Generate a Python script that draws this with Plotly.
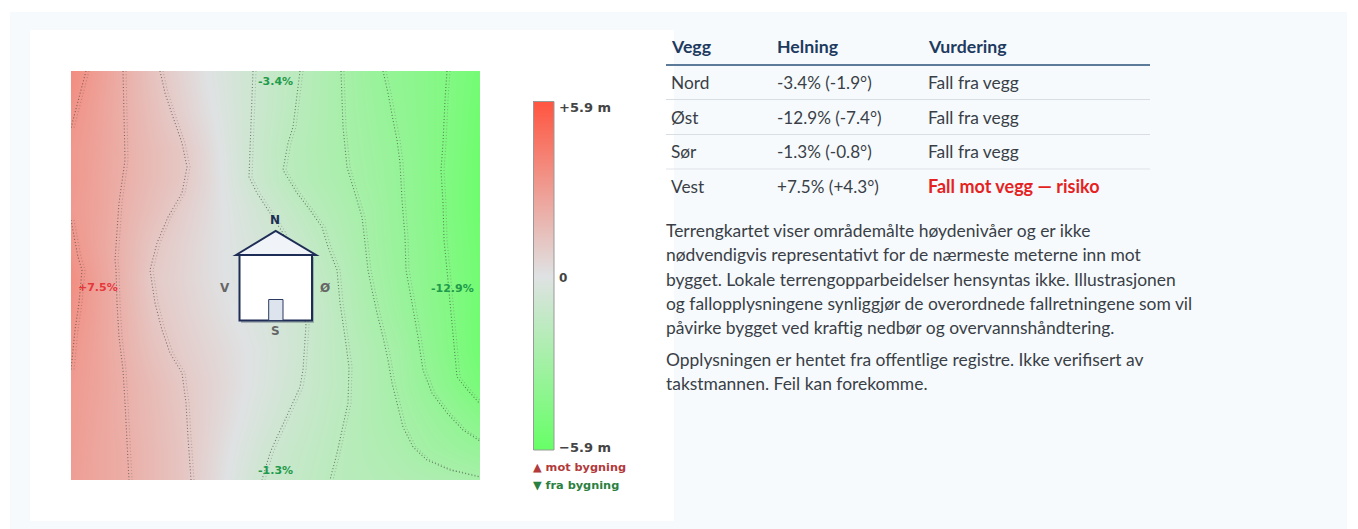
import plotly.graph_objects as go

W, H = 1358, 529

# --- terrain grid (metres relative to the building)
map_x = [71, 98, 125, 153, 180, 207, 234, 262, 289, 316, 344, 371, 398, 426, 453, 480]
map_y = [71, 110, 150, 180, 210, 245, 280, 315, 350, 385, 420, 450, 480]
z_r01 = [3.6, 2.85, 2.1, 1.3, .65, 0, -.53, -1.07, -1.59, -2.15, -2.76, -3.34, -3.81, -4.2, -4.65, -5.2]
z_r02 = [3.3, 2.7, 2.1, 1.45, .8, .15, -.48, -1.11, -1.67, -2.2, -2.74, -3.24, -3.73, -4.2, -4.65, -5.4]
z_r03 = [3.1, 2.65, 2.1, 1.6, 1.15, .4, -.42, -1.19, -1.83, -2.25, -2.68, -3.13, -3.58, -4.17, -4.7, -5.5]
z_r04 = [3.1, 2.6, 2.1, 1.6, 1.15, .45, -.36, -1.14, -1.78, -2.2, -2.6, -3.06, -3.53, -4.15, -4.75, -5.5]
z_r05 = [3.0, 2.6, 2.0, 1.45, .9, .35, -.2, -.78, -1.35, -1.9, -2.4, -2.9, -3.5, -4.13, -4.75, -5.5]
z_r06 = [3.2, 2.55, 1.9, 1.15, .7, .25, -.13, -.54, -.95, -1.55, -2.2, -2.85, -3.45, -4.05, -4.65, -5.4]
z_r07 = [3.5, 2.7, 1.9, 1.0, .65, .25, -.1, -.5, -.85, -1.35, -1.95, -2.7, -3.35, -4.0, -4.6, -5.3]
z_r08 = [3.35, 2.65, 1.95, 1.15, .75, .38, .02, -.35, -.7, -1.17, -1.85, -2.55, -3.2, -3.9, -4.55, -5.4]
z_r09 = [3.15, 2.6, 2.0, 1.35, .9, .55, .2, -.2, -.65, -1.25, -1.75, -2.3, -2.9, -3.75, -4.5, -5.35]
z_r10 = [3.0, 2.6, 2.1, 1.6, 1.1, .68, .24, -.25, -.75, -1.27, -1.7, -2.25, -2.85, -3.55, -4.25, -5.0]
z_r11 = [2.95, 2.55, 2.1, 1.65, 1.2, .66, .12, -.45, -.96, -1.38, -1.82, -2.25, -2.67, -3.17, -3.65, -4.2]
z_r12 = [2.9, 2.5, 2.2, 1.7, 1.25, .6, -.05, -.7, -1.15, -1.5, -1.88, -2.17, -2.45, -2.9, -3.2, -3.5]
z_r13 = [2.85, 2.5, 2.2, 1.7, 1.25, .55, -.2, -.9, -1.25, -1.6, -1.9, -2.05, -2.2, -2.35, -2.5, -2.7]
terrain_z = [z_r01, z_r02, z_r03, z_r04, z_r05, z_r06, z_r07, z_r08, z_r09, z_r10, z_r11, z_r12, z_r13]

# --- contour lines
a1_x = [86, 80, 73, 71]
a1_y = [71, 93, 120, 128]
a2_x = [71, 75, 78, 82, 79, 75, 71]
a2_y = [220, 242, 257, 270, 303, 330, 370]
b_x = [123, 125, 119, 115, 116, 117, 119, 123, 125, 127, 129, 129]
b_y = [71, 160, 203, 260, 270, 303, 337, 370, 403, 437, 477, 480]
c_x = [160, 165, 174, 182, 187, 182, 168, 157, 150, 155, 162, 170, 182, 186, 188, 191]
c_y = [71, 93, 120, 143, 167, 193, 217, 243, 270, 303, 330, 353, 373, 403, 437, 480]
d_x = [253, 251, 249, 257, 268, 283, 306, 303, 300, 293, 285, 277, 270, 262]
d_y = [71, 127, 177, 193, 210, 233, 325, 370, 387, 403, 420, 437, 453, 480]
e_x = [300, 297, 293, 288, 283, 297, 310, 322, 328, 337, 340, 345, 349, 348, 343, 337, 330]
e_y = [71, 93, 127, 143, 170, 193, 210, 227, 247, 270, 303, 337, 367, 403, 427, 453, 480]
f_x = [341, 343, 347, 355, 362, 365, 368, 372, 377, 383, 388, 392, 397, 403, 413, 427, 450, 480]
f_y = [71, 127, 167, 193, 217, 243, 270, 290, 313, 337, 360, 383, 403, 427, 447, 460, 470, 477]
g_x = [383, 388, 393, 397, 400, 402, 405, 406, 412, 418, 423, 432, 447, 463, 480]
g_y = [71, 93, 120, 140, 163, 200, 237, 270, 303, 337, 370, 393, 413, 430, 441]
h_x = [447, 445, 443, 441, 443, 444, 447, 450, 453, 457, 465, 480]
h_y = [71, 100, 143, 170, 203, 240, 270, 303, 337, 377, 387, 404]
contours = [(a1_x, a1_y), (a2_x, a2_y), (b_x, b_y), (c_x, c_y), (d_x, d_y),
            (e_x, e_y), (f_x, f_y), (g_x, g_y), (h_x, h_y)]

# --- scale
scale_levels = [-5.9, -2.95, 0, 2.95, 5.9]
scale_stops = [[0, "#66ff66"], [0.5, "#dfe2e3"], [1, "#ff5540"]]
scale_labels = ["+5.9 m", "0", "−5.9 m"]
legend_labels = ["▲ mot bygning", "▼ fra bygning"]

# --- wall labels
wall_slopes = ["-3.4%", "-12.9%", "-1.3%", "+7.5%"]
wall_letters = ["N", "Ø", "S", "V"]

# --- table
table_header = ["Vegg", "Helning", "Vurdering"]
table_walls = ["Nord", "Øst", "Sør", "Vest"]
table_slopes = ["-3.4% (-1.9°)", "-12.9% (-7.4°)", "-1.3% (-0.8°)", "+7.5% (+4.3°)"]
table_verdicts = ["Fall fra vegg", "Fall fra vegg", "Fall fra vegg", "Fall mot vegg — risiko"]

paragraph_lines = [
    "Terrengkartet viser områdemålte høydenivåer og er ikke",
    "nødvendigvis representativt for de nærmeste meterne inn mot",
    "bygget. Lokale terrengopparbeidelser hensyntas ikke. Illustrasjonen",
    "og fallopplysningene synliggjør de overordnede fallretningene som vil",
    "påvirke bygget ved kraftig nedbør og overvannshåndtering.",
    "Opplysningen er hentet fra offentlige registre. Ikke verifisert av",
    "takstmannen. Feil kan forekomme.",
]

def px(x):
    return x / W

def py(y):
    return 1 - y / H

fig = go.Figure()

fig.add_trace(go.Heatmap(x=map_x, y=map_y, z=terrain_z, zmin=-5.9, zmax=5.9, zsmooth="best",
                         colorscale=scale_stops, showscale=False, hoverinfo="skip",
                         xaxis="x", yaxis="y"))
for cx, cy in contours:
    fig.add_trace(go.Scatter(x=cx, y=cy, mode="lines", hoverinfo="skip", showlegend=False,
                             line=dict(color="rgba(50,50,50,0.6)", width=1.1, dash="1px,2.2px"),
                             xaxis="x", yaxis="y"))
    fig.add_trace(go.Scatter(x=[v + 3 for v in cx], y=cy, mode="lines", hoverinfo="skip", showlegend=False,
                             line=dict(color="rgba(50,50,50,0.25)", width=1.1, dash="1px,2.2px"),
                             xaxis="x", yaxis="y"))

fig.add_trace(go.Heatmap(x=[0, 1], y=scale_levels, z=[[v, v] for v in scale_levels],
                         zmin=-5.9, zmax=5.9, zsmooth="best", colorscale=scale_stops,
                         showscale=False, hoverinfo="skip", xaxis="x2", yaxis="y2"))

shapes = []
def rect(x0, y0, x1, y1, fill, line=None, lw=0, ref="paper", layer="below"):
    if ref == "paper":
        coords = dict(xref="paper", yref="paper", x0=px(x0), x1=px(x1), y0=py(y0), y1=py(y1))
    else:
        coords = dict(xref="x", yref="y", x0=x0, x1=x1, y0=y0, y1=y1)
    shapes.append(dict(type="rect", fillcolor=fill, layer=layer,
                       line=dict(color=line or "rgba(0,0,0,0)", width=lw), **coords))

# page panel and white card
rect(10, 12, 1347, 529, "#f6fafd")
rect(30, 30, 674, 521, "#ffffff")

# house, drawn on the map axes
NAVY = "#1e2d55"
rect(241, 257, 314, 323, "rgba(40,45,80,0.28)", ref="map", layer="above")
rect(239.5, 255, 312, 320.5, "#ffffff", NAVY, 2, ref="map", layer="above")
shapes.append(dict(type="path", xref="x", yref="y", layer="above",
                   path="M 236 255 L 275.7 231 L 316 255 Z",
                   fillcolor="#f0f4f9", line=dict(color=NAVY, width=2)))
rect(268.7, 299.5, 283, 320.5, "#dde4ee", "#2a3a60", 1, ref="map", layer="above")

# scale outline
rect(533.5, 101.5, 554, 450, "rgba(0,0,0,0)", "#999999", 1, layer="above")

# table rules
for y, colour, lw in [(65, "#5c7a9a", 2), (99.5, "#d8dee4", 1), (134.5, "#d8dee4", 1), (169, "#dfe3e8", 1)]:
    shapes.append(dict(type="line", xref="paper", yref="paper", x0=px(666), x1=px(1150),
                       y0=py(y), y1=py(y), line=dict(color=colour, width=lw), layer="above"))

DV = "DejaVu Sans"
LATO = "Lato"
ann = []
def text(x, y, s, family, size, colour, bold=False, anchor="left"):
    ann.append(dict(x=px(x), y=py(y), xref="paper", yref="paper", text=s, showarrow=False,
                    xanchor=anchor, yanchor="middle", align=anchor,
                    font=dict(family=family, size=size, color=colour, weight=700 if bold else 400),
                    borderpad=0, borderwidth=0))

GREEN = "#1f9b4b"
RED = "#e5383b"
for (x, y), s, c in zip([(275, 81), (452, 288), (275, 470), (98, 287)], wall_slopes,
                        [GREEN, GREEN, GREEN, RED]):
    text(x, y, s, DV, 11, c, True, "center")
for (x, y), s, c in zip([(275, 220), (325, 288), (275, 331), (225, 288)], wall_letters,
                        [NAVY, "#666666", "#666666", "#666666"]):
    text(x, y, s, DV, 12, c, True, "center")

for y, s in zip([108, 278, 447], scale_labels):
    text(559, y, s, DV, 13 if s != "0" else 12, "#444444", True)
text(533, 467, legend_labels[0], DV, 11.3, "#b23a3a", True)
text(533, 485, legend_labels[1], DV, 11.3, "#2a8040", True)

for x, s in zip([671, 777, 928], table_header):
    text(x, 47, s, LATO, 17.7, "#1e3a5f", True)
for i, y in enumerate([82, 117, 151, 186]):
    text(671, y, table_walls[i], LATO, 17.3, "#3a3f47")
    text(777, y, table_slopes[i], LATO, 17.1, "#3a3f47")
    risk = "risiko" in table_verdicts[i]
    text(928, y, table_verdicts[i], LATO, 18 if risk else 17.4, "#e52222" if risk else "#3a3f47", risk)
for y, s in zip([231, 255, 279, 303, 327, 359, 383], paragraph_lines):
    text(666, y, s, LATO, 17.45, "#3a3f47")

hidden = dict(visible=False, showgrid=False, zeroline=False, fixedrange=True)
fig.update_layout(
    width=W, height=H, margin=dict(l=0, r=0, t=0, b=0, pad=0),
    paper_bgcolor="#ffffff", plot_bgcolor="rgba(0,0,0,0)", showlegend=False,
    xaxis=dict(domain=[px(71), px(480)], range=[71, 480], **hidden),
    yaxis=dict(domain=[py(480), py(71)], range=[480, 71], **hidden),
    xaxis2=dict(domain=[px(533), px(554)], range=[0, 1], anchor="y2", **hidden),
    yaxis2=dict(domain=[py(450), py(101)], range=[-5.9, 5.9], anchor="x2", **hidden),
    shapes=shapes, annotations=ann,
)
fig.write_html("out.html", config={"displayModeBar": False, "staticPlot": True},
               post_script="document.body.style.margin='0';document.body.style.overflow='hidden';")
